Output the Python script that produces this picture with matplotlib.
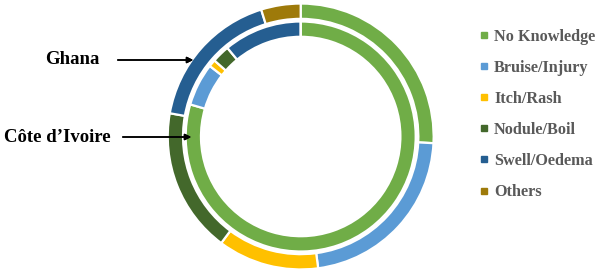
import matplotlib.pyplot as plt
from matplotlib.lines import Line2D

# categories and shares (%)
categories = ['No Knowledge', 'Bruise/Injury', 'Itch/Rash', 'Nodule/Boil', 'Swell/Oedema', 'Others']
ghana = [25.8, 22.1, 12.3, 17.6, 17.4, 4.8]
cote_divoire = [79.5, 6.0, 1.0, 2.5, 11.0, 0.0]
colors = ['#70AD47', '#5B9BD5', '#FFC000', '#43682B', '#255E91', '#9E7A0A']

fig = plt.figure(figsize=(6, 2.73), dpi=100)
ax = fig.add_axes([0.2795, 0.013, 0.4433, 0.974])

wp = dict(width=0.115, edgecolor='white', linewidth=1.6)
ax.pie(ghana, radius=1.0, colors=colors, startangle=90, counterclock=False, wedgeprops=wp)
ax.pie(cote_divoire, radius=0.865, colors=colors, startangle=90, counterclock=False, wedgeprops=wp)
ax.set_xlim(-1, 1)
ax.set_ylim(-1, 1)
ax.set_aspect('equal')
ax.axis('off')

# country labels with arrows
serif = 'Liberation Serif'
fig.text(72 / 600, 1 - 60 / 273, 'Ghana', family=serif, weight='bold', fontsize=13.5,
         ha='center', va='center')
fig.text(57 / 600, 1 - 137 / 273, 'Côte d’Ivoire', family=serif, weight='bold', fontsize=13.5,
         ha='center', va='center')
arrow = dict(arrowstyle='-|>', color='black', lw=1.1, mutation_scale=9)
fig.add_artist(plt.annotate('', xy=(196 / 600, 1 - 60 / 273), xytext=(115 / 600, 1 - 60 / 273),
                            xycoords='figure fraction', arrowprops=arrow))
fig.add_artist(plt.annotate('', xy=(194 / 600, 1 - 137 / 273), xytext=(120 / 600, 1 - 137 / 273),
                            xycoords='figure fraction', arrowprops=arrow))

# legend
handles = [Line2D([], [], marker='s', linestyle='none', markersize=4.5,
                  markerfacecolor=c, markeredgecolor=c) for c in colors]
leg = fig.legend(handles, categories, loc='upper left', bbox_to_anchor=(464 / 600, 1 - 14 / 273),
                 frameon=False, handlelength=0.6, handletextpad=0.35, labelspacing=0.93,
                 prop=dict(family=serif, weight='bold', size=11.7))
for t in leg.get_texts():
    t.set_color('#595959')

fig.savefig('out.png', dpi=100)
